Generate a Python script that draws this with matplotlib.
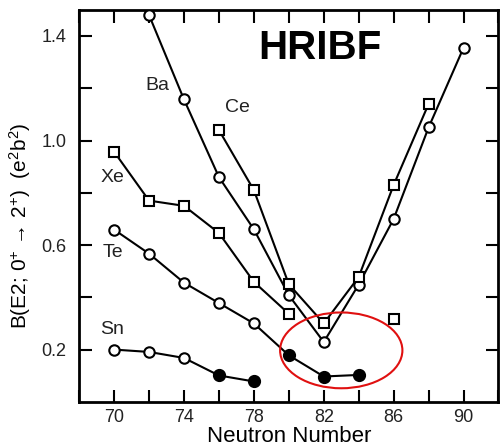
import numpy as np
import matplotlib
matplotlib.use('Agg')
import matplotlib.pyplot as plt
from matplotlib.patches import Ellipse

plt.rcParams['font.family'] = ['Liberation Sans', 'DejaVu Sans']
plt.rcParams['mathtext.fontset'] = 'custom'
plt.rcParams['mathtext.rm'] = 'Liberation Sans'
plt.rcParams['mathtext.it'] = 'Liberation Sans:italic'

# B(E2) values vs neutron number
ba_n = [72, 74, 76, 78, 80, 82, 84, 86, 88, 90]
ba_b = [1.48, 1.157, 0.86, 0.66, 0.408, 0.229, 0.449, 0.70, 1.05, 1.355]

ce_n = [76, 78, 80, 82, 84, 86, 88]
ce_b = [1.04, 0.81, 0.45, 0.30, 0.478, 0.83, 1.14]

xe_n = [70, 72, 74, 76, 78, 80]
xe_b = [0.957, 0.77, 0.75, 0.646, 0.459, 0.337]
xe_extra_n = [86]
xe_extra_b = [0.318]

te_n = [70, 72, 74, 76, 78, 80, 82, 84]
te_b = [0.659, 0.567, 0.456, 0.378, 0.30, 0.178, 0.097, 0.103]
te_filled = [False, False, False, False, False, True, True, True]

sn_n = [70, 72, 74, 76, 78]
sn_b = [0.20, 0.191, 0.168, 0.101, 0.078]
sn_filled = [False, False, False, True, True]

fig = plt.figure(figsize=(5.01, 4.47), dpi=100)
ax = fig.add_axes([0.158, 0.101, 0.837, 0.877])

lw = 1.5
circ = dict(marker='o', markersize=7.5, markeredgewidth=1.5, markeredgecolor='black', color='black', linewidth=lw)
sq = dict(marker='s', markersize=6.5, markeredgewidth=1.5, markeredgecolor='black', color='black', linewidth=lw)

ax.plot(ba_n, ba_b, markerfacecolor='white', zorder=3, **circ)
ax.plot(ce_n, ce_b, markerfacecolor='white', zorder=3, **sq)
ax.plot(xe_n, xe_b, markerfacecolor='white', zorder=3, **sq)
ax.plot(xe_extra_n, xe_extra_b, linestyle='none', markerfacecolor='white', zorder=3,
        marker='s', markersize=6.5, markeredgewidth=1.5, markeredgecolor='black')

# lines first, then open / filled markers
for n, b, filled in [(te_n, te_b, te_filled), (sn_n, sn_b, sn_filled)]:
    ax.plot(n, b, color='black', linewidth=lw, zorder=2)
    n = np.array(n)
    b = np.array(b)
    f = np.array(filled)
    ax.plot(n[~f], b[~f], linestyle='none', marker='o', markersize=7.5, markeredgewidth=1.5,
            markeredgecolor='black', markerfacecolor='white', zorder=3)
    ax.plot(n[f], b[f], linestyle='none', marker='o', markersize=8, markeredgewidth=1.5,
            markeredgecolor='black', markerfacecolor='black', zorder=3)

# series labels
lab = dict(fontsize=14, color='#222222', ha='center', va='center')
ax.text(72.5, 1.209, 'Ba', **lab)
ax.text(77.05, 1.125, 'Ce', **lab)
ax.text(69.9, 0.86, 'Xe', **lab)
ax.text(69.95, 0.573, 'Te', **lab)
ax.text(69.9, 0.278, 'Sn', **lab)

ax.text(78.25, 1.355, 'HRIBF', fontsize=29, fontweight='bold', ha='left', va='center')

ax.add_patch(Ellipse((83.0, 0.197), 7.0, 0.29, fill=False, edgecolor='#e01010', linewidth=1.5, zorder=4))

ax.set_xlim(68, 92)
ax.set_ylim(0, 1.5)
ax.set_xticks(np.arange(70, 91, 4))
ax.set_xticks(np.arange(68, 93, 2), minor=True)
ax.set_yticks([0.2, 0.6, 1.0, 1.4])
ax.set_yticks([0.4, 0.8, 1.2], minor=True)
ax.tick_params(which='both', direction='in', top=True, right=True, width=1.5, length=9,
               labelsize=13, colors='black')
ax.tick_params(axis='x', which='both', pad=5)
ax.tick_params(axis='y', which='both', pad=9)
for lbl in ax.get_xticklabels() + ax.get_yticklabels():
    lbl.set_color('#222222')
for s in ax.spines.values():
    s.set_linewidth(2)

ax.set_xlabel('Neutron Number', fontsize=16, labelpad=0)
ax.set_ylabel(r'B(E2; 0$^{+}$ → 2$^{+}$)  (e$^{2}$b$^{2}$)', fontsize=15)
ax.yaxis.set_label_coords(-0.11, 0.45)

fig.savefig('out.png', dpi=100)
